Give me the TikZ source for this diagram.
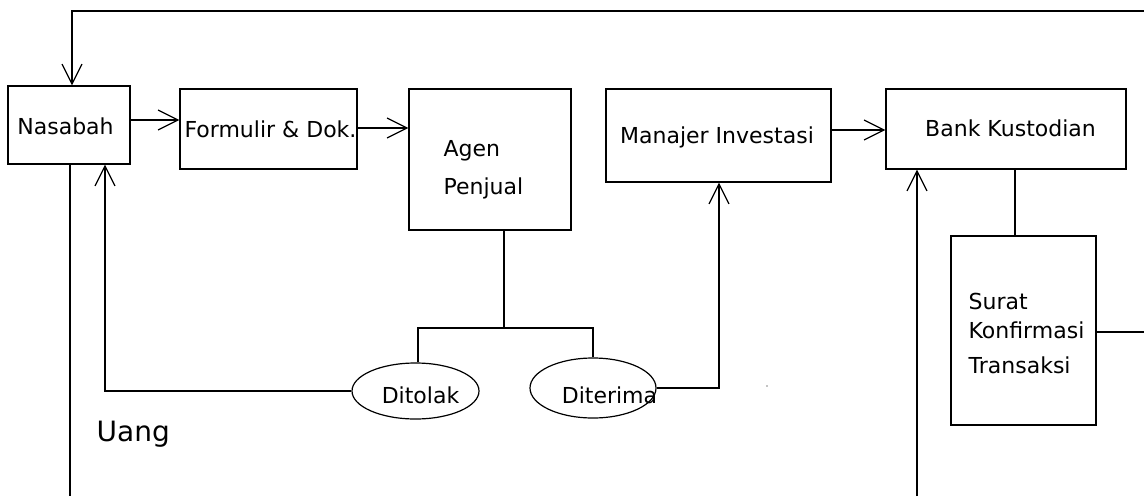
\documentclass[tikz,border=0pt]{standalone}
\usepackage{fontspec}
\setmainfont{DejaVu Sans}
\usetikzlibrary{arrows.meta,fit,shapes.geometric}
\begin{document}
\begin{tikzpicture}[x=0.75pt,y=-0.75pt,
  line width=0.9pt,
  box/.style={draw,inner sep=0pt},
  oval/.style={draw,ellipse,inner sep=0pt},
  lbl/.style={anchor=base,inner sep=0pt,font=\fontsize{16.5}{20}\selectfont},
  lbll/.style={anchor=base west,inner sep=0pt,font=\fontsize{16.5}{20}\selectfont},
  arr/.style={-{Straight Barb[length=15pt,width=15pt,line width=0.9pt]}}]
\useasboundingbox (0,0) rectangle (1144,496);
% boxes
\node[box,fit={(8,86) (130,164)}] (nas) {};
\node[box,fit={(180,89) (357,169)}] (form) {};
\node[box,fit={(409,89) (571,230)}] (agen) {};
\node[box,fit={(606,89) (831,182)}] (mi) {};
\node[box,fit={(886,89) (1126,169)}] (bk) {};
\node[box,fit={(951,236) (1096,425)}] (sk) {};
\node[oval,minimum width=95.25pt,minimum height=42pt] (tol) at (415.5,391) {};
\node[oval,minimum width=94.5pt,minimum height=45pt] (ter) at (593,388) {};
% texts
\node[lbl] (tnas) at (65.5,134) {Nasabah};
\node[lbl] (tform) at (270.5,137) {Formulir \& Dok.};
\node[lbll] (tagen1) at (443,156) {Agen};
\node[lbll] (tagen2) at (443,194) {Penjual};
\node[lbl] (tmi) at (717,143) {Manajer Investasi};
\node[lbl] (tbk) at (1010.5,136) {Bank Kustodian};
\node[lbl] (ttol) at (420.5,403) {Ditolak};
\node[lbl] (tter) at (609.5,403) {Diterima};
\node[lbll] (tsk1) at (968,309) {Surat};
\node[lbll] (tsk2) at (968,338) {Konfirmasi};
\node[lbll] (tsk3) at (968,373) {Transaksi};
\node[anchor=base west,inner sep=0pt,font=\fontsize{21}{25}\selectfont] (uang) at (96,441) {Uang};
% free ends
\coordinate (tr) at (1144,11);
\coordinate (re) at (1144,332);
\coordinate (nb) at (70,496);
\coordinate (bb) at (917,496);
\coordinate (jn) at (504,328);
% connectors
\draw[arr] (tr) -| (nas.north -| 72,0);
\draw[arr] (nas.east |- 0,120) -- (form.west |- 0,120);
\draw[arr] (form.east |- 0,128) -- (agen.west |- 0,128);
\draw[arr] (mi.east |- 0,130) -- (bk.west |- 0,130);
\draw (agen.south -| jn) -- (jn);
\draw (tol.north -| 418,0) |- (jn) -| (ter.north);
\draw[arr] (tol.west) -| (nas.south -| 105,0);
\draw[arr] (ter.east) -| (mi.south -| 719,0);
\draw (nas.south -| nb) -- (nb);
\draw[arr] (bb) -- (bk.south -| bb);
\draw (bk.south -| 1015,0) -- (sk.north -| 1015,0);
\draw (sk.east |- re) -- (re);
\fill (767,386) circle (0.6);
\end{tikzpicture}
\end{document}
